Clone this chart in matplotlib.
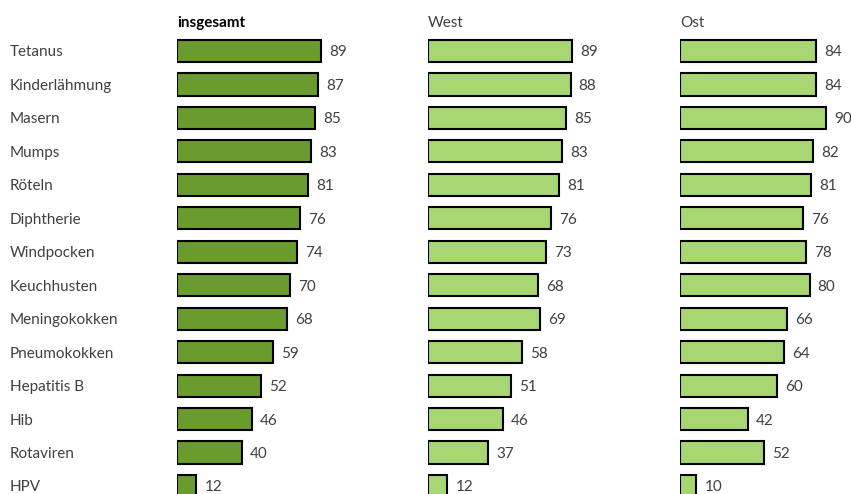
import matplotlib.pyplot as plt
from matplotlib.transforms import blended_transform_factory

plt.rcParams['font.family'] = ['Lato', 'DejaVu Sans']

categories = ['Tetanus', 'Kinderlähmung', 'Masern', 'Mumps', 'Röteln', 'Diphtherie',
              'Windpocken', 'Keuchhusten', 'Meningokokken', 'Pneumokokken',
              'Hepatitis B', 'Hib', 'Rotaviren', 'HPV']
insgesamt = [89, 87, 85, 83, 81, 76, 74, 70, 68, 59, 52, 46, 40, 12]
west = [89, 88, 85, 83, 81, 76, 73, 68, 69, 58, 51, 46, 37, 12]
ost = [84, 84, 90, 82, 81, 76, 78, 80, 66, 64, 60, 42, 52, 10]
titles = ['insgesamt', 'West', 'Ost']

W, H = 851, 494
fig = plt.figure(figsize=(W / 100, H / 100), dpi=100)

row = 33.46      # px per row
y0 = 51          # px centre of first row
scale = 1.62     # px per percent
ytop = -y0 / row
ybot = (H - y0) / row
lefts = [177, 428, 680]
series = [insgesamt, west, ost]
colors = ['#6a9b2f', '#a7d672']
grey = '#404040'
tdy = 1.5 / row  # small downward nudge for text

for k, (vals, left) in enumerate(zip(series, lefts)):
    width_units = 130
    ax = fig.add_axes([left / W, 0, width_units * scale / W, 1])
    ax.set_xlim(0, width_units)
    ax.set_ylim(ybot, ytop)
    ax.axis('off')
    ypos = list(range(len(categories)))
    ax.barh(ypos, vals, height=0.66, color=colors[0] if k == 0 else colors[1],
            edgecolor='black', linewidth=1.5)
    for y, v in zip(ypos, vals):
        ax.text(v + 5, y + tdy, str(v), va='center', ha='left', fontsize=11, color=grey)
    if k == 0:
        ax.text(0, (23 - y0) / row, titles[k], fontsize=11, fontweight='bold',
                color='black', va='center', ha='left')
        tr = blended_transform_factory(fig.transFigure, ax.transData)
        for y, c in zip(ypos, categories):
            ax.text(10 / W, y + tdy, c, transform=tr, va='center', ha='left',
                    fontsize=11, color=grey)
    else:
        ax.text(0, (23 - y0) / row, titles[k], fontsize=11,
                color=grey, va='center', ha='left')

fig.savefig('out.png', dpi=100)
